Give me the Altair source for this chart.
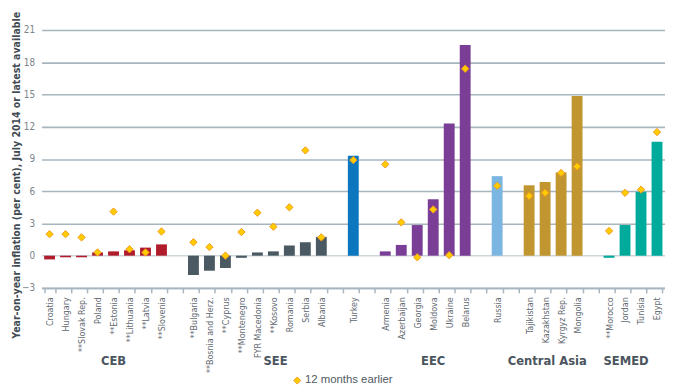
import altair as alt
import pandas as pd

categories = ["Croatia", "Hungary", "**Slovak Rep.", "Poland", "**Estonia", "**Lithuania",
              "**Latvia", "**Slovenia", "gap1",
              "**Bulgaria", "**Bosnia and Herz.", "**Cyprus", "**Montenegro", "FYR Macedonia",
              "**Kosovo", "Romania", "Serbia", "Albania", "gap2",
              "Turkey", "gap3",
              "Armenia", "Azerbaijan", "Georgia", "Moldova", "Ukraine", "Belarus", "gap4",
              "Russia", "gap5",
              "Tajikistan", "Kazakhstan", "Kyrgyz Rep.", "Mongolia", "gap6",
              "**Morocco", "Jordan", "Tunisia", "Egypt"]

groups = ["CEB"] * 8 + [None] + ["SEE"] * 9 + [None] + ["Turkey"] + [None] + \
         ["EEC"] * 6 + [None] + ["Russia"] + [None] + ["Central Asia"] * 4 + [None] + ["SEMED"] * 4

current = [-0.35, -0.15, -0.15, 0.3, 0.4, 0.5, 0.75, 1.05, None,
           -1.8, -1.4, -1.15, -0.2, 0.3, 0.4, 0.95, 1.25, 1.75, None,
           9.3, None,
           0.4, 1.0, 2.85, 5.25, 12.3, 19.6, None,
           7.4, None,
           6.55, 6.85, 7.75, 14.85, None,
           -0.2, 2.85, 5.95, 10.6]

earlier = [2.0, 2.0, 1.7, 0.3, 4.1, 0.6, 0.3, 2.25, None,
           1.25, 0.8, 0.0, 2.2, 4.0, 2.7, 4.5, 9.8, 1.7, None,
           8.9, None,
           8.5, 3.1, -0.15, 4.3, 0.05, 17.4, None,
           6.5, None,
           5.55, 5.85, 7.7, 8.3, None,
           2.3, 5.85, 6.15, 11.5]

group_names = ["CEB", "SEE", "Turkey", "EEC", "Russia", "Central Asia", "SEMED"]
group_colors = ["#b01c2c", "#4b5963", "#0c76be", "#7a3e97", "#7bb5e2", "#c19631", "#00ab9c"]

region_labels = ["CEB", "SEE", "EEC", "Central Asia", "SEMED"]
region_anchor = ["**Estonia", "**Kosovo", "Moldova", "Kazakhstan", "Jordan"]
region_band = [0.5, 0.7, 0.5, 0.7, 0.6]

y_ticks = [-3, 0, 3, 6, 9, 12, 15, 18, 21]

df = pd.DataFrame({"cat": categories, "group": groups, "current": current, "earlier": earlier,
                   "series": ["12 months earlier"] * len(categories)})

FONT = "DejaVu Sans Condensed"
GRID = "#a7b5be"

x_axis = alt.Axis(
    title=None, labelAngle=-90, labelFont=FONT, labelFontSize=9, labelColor="#5f6970",
    labelPadding=4, tickBand="extent", tickSize=5, tickColor=GRID, tickWidth=1.5,
    domainColor=GRID, domainWidth=1.5, labelExpr="indexof(datum.label, 'gap') == 0 ? '' : datum.label",
)
x_scale = alt.Scale(domain=categories, paddingInner=0.32, paddingOuter=0.16)
y_scale = alt.Scale(domain=[-3, 21], nice=False, zero=False)
y_axis = alt.Axis(
    title="Year-on-year inflation (per cent), July 2014 or latest available",
    titleFont=FONT, titleFontSize=10.6, titleFontWeight="bold", titleColor="#3f4a52",
    titleX=-20, titleY=146.5, titleAngle=-90, titleLimit=400,
    values=y_ticks, labelFont=FONT, labelFontSize=10, labelColor="#7a8389",
    labelPadding=7, ticks=False, tickSize=0, domain=False,
    grid=True, gridColor=alt.condition("datum.value == 0", alt.value("#cdd5d9"), alt.value(GRID)),
    gridWidth=1.6,
)

base = alt.Chart(df)

bars = base.mark_bar().encode(
    x=alt.X("cat:N", sort=categories, scale=x_scale, axis=x_axis),
    y=alt.Y("current:Q", scale=y_scale, axis=y_axis),
    color=alt.Color("group:N", scale=alt.Scale(domain=group_names, range=group_colors), legend=None),
)

points = base.mark_point(shape="diamond", filled=True, size=55, stroke="#f39a1e", strokeWidth=1,
                         opacity=1).encode(
    x=alt.X("cat:N", sort=categories, scale=x_scale, axis=x_axis),
    y=alt.Y("earlier:Q", scale=y_scale, axis=y_axis),
    fill=alt.Fill("series:N", scale=alt.Scale(domain=["12 months earlier"], range=["#ffcc00"]),
                  legend=alt.Legend(title=None, orient="none", legendX=253, legendY=349,
                                    symbolType="diamond", symbolSize=50,
                                    symbolStrokeColor="#f39a1e", symbolStrokeWidth=1,
                                    symbolOpacity=1, padding=0,
                                    labelFont="Liberation Sans", labelFontSize=11.5,
                                    labelColor="#4f5a62", labelOffset=2)),
)

layers = [bars, points]
for name, anchor, bp in zip(region_labels, region_anchor, region_band):
    t = alt.Chart(pd.DataFrame({"cat": [anchor], "label": [name]})).mark_text(
        font=FONT, fontSize=13, fontWeight="bold", color="#4a555e", baseline="middle", align="center"
    ).encode(
        x=alt.X("cat:N", sort=categories, scale=x_scale, axis=x_axis, bandPosition=bp),
        y=alt.value(335),
        text="label:N",
    )
    layers.append(t)

chart = alt.layer(*layers).properties(
    width=631, height=261,
    autosize=alt.AutoSizeParams(type="none"),
    padding={"left": 34, "top": 20, "right": 0, "bottom": 98},
).configure_view(stroke=None)

chart.save("out.html", embed_options={"renderer": "svg", "actions": False})
